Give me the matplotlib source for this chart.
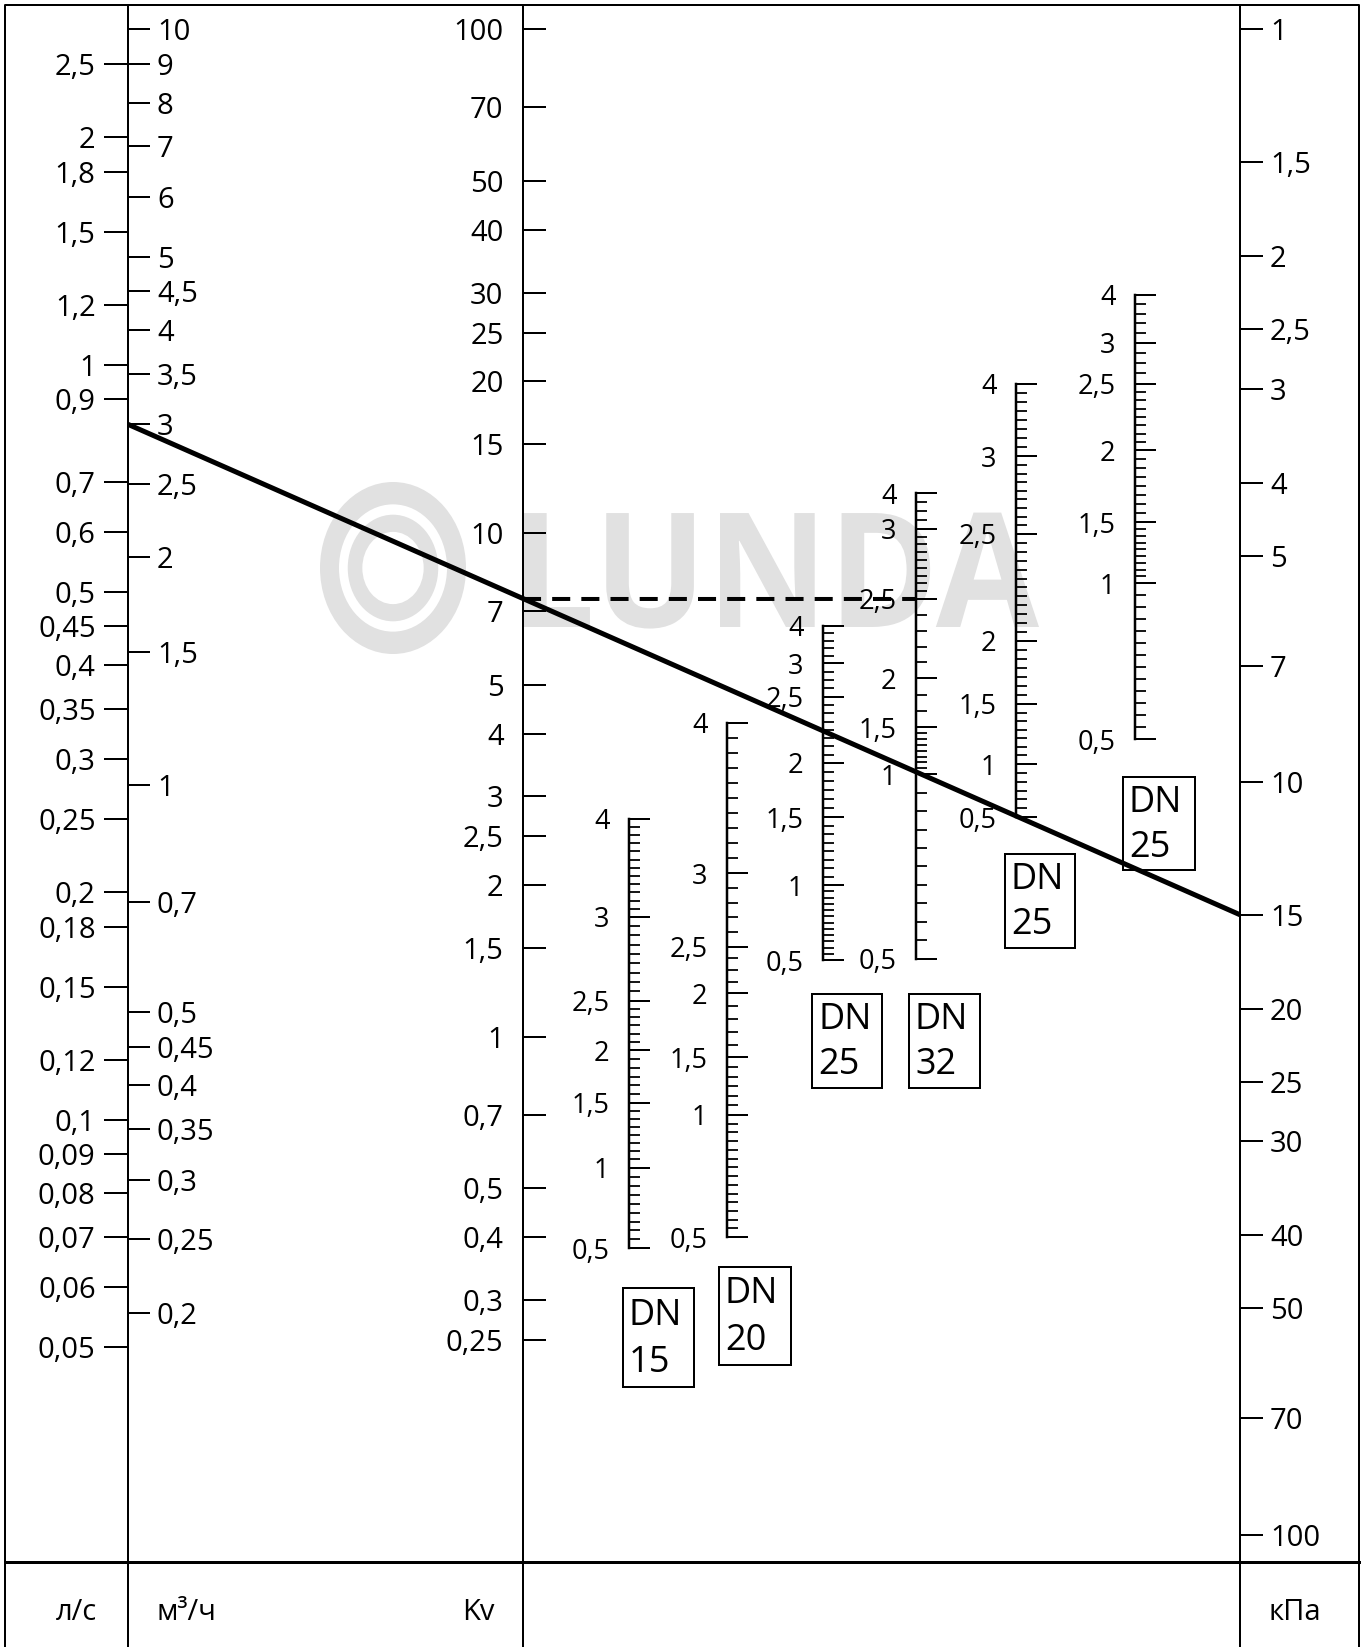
import numpy as np
import matplotlib.pyplot as plt
from matplotlib.patches import Rectangle, Ellipse, ConnectionPatch, PathPatch
from matplotlib.ticker import NullFormatter, NullLocator
from matplotlib.textpath import TextPath
from matplotlib.font_manager import FontProperties
from matplotlib.transforms import Affine2D

plt.rcParams['font.family'] = ['Open Sans', 'DejaVu Sans']
plt.rcParams['lines.scale_dashes'] = False

# --- values ---
ls_ticks = [2.5, 2, 1.8, 1.5, 1.2, 1, 0.9, 0.7, 0.6, 0.5, 0.45, 0.4, 0.35, 0.3, 0.25,
            0.2, 0.18, 0.15, 0.12, 0.1, 0.09, 0.08, 0.07, 0.06, 0.05]
m3h_ticks = [10, 9, 8, 7, 6, 5, 4.5, 4, 3.5, 3, 2.5, 2, 1.5, 1, 0.7, 0.5, 0.45, 0.4,
             0.35, 0.3, 0.25, 0.2]
kv_ticks = [100, 70, 50, 40, 30, 25, 20, 15, 10, 7, 5, 4, 3, 2.5, 2, 1.5, 1, 0.7, 0.5,
            0.4, 0.3, 0.25]
kpa_ticks = [1, 1.5, 2, 2.5, 3, 4, 5, 7, 10, 15, 20, 25, 30, 40, 50, 70, 100]

settings = [4, 3, 2.5, 2, 1.5, 1, 0.5]
dn_names = ['15', '20', '25', '32', '25', '25']
# Kv that each presetting lines up with
dn_kv = [
    [2.71, 1.73, 1.18, 0.94, 0.74, 0.55, 0.38],
    [4.20, 2.11, 1.51, 1.22, 0.91, 0.70, 0.40],
    [6.54, 5.52, 4.73, 3.50, 2.73, 2.00, 1.42],
    [12.0, 10.2, 7.40, 5.15, 4.12, 3.32, 1.43],
    [19.8, 14.2, 9.96, 6.11, 4.58, 3.48, 2.73],
    [29.7, 23.9, 19.8, 14.6, 10.5, 7.96, 3.90],
]
# number of small divisions between labelled settings
dn_divs = [
    [12, 9, 6, 6, 8, 9],
    [10, 5, 4, 5, 6, 14],
    [5, 4, 8, 6, 8, 12],
    [4, 9, 5, 3, 8, 10],
    [8, 9, 12, 7, 7, 6],
    [5, 4, 8, 8, 9, 13],
]

flow_example = 3     # m3/h
dp_example = 15      # kPa
dn_example = 3       # DN32
setting_example = 2.5

# --- layout (pixels, origin top left) ---
W, H = 1363, 1647
TOP, SEP, RIGHT, LEFT = 5, 1562, 1359, 5
X_FLOW, X_KV, X_KPA = 128, 523, 1240
X_DN = [629, 727, 823, 916, 1016, 1135]
DN_BOX = [(623, 1288, 71, 99), (719, 1267, 72, 98), (812, 994, 70, 94),
          (909, 994, 71, 94), (1005, 854, 70, 94), (1123, 777, 72, 93)]
FS_TICK, FS_DN, FS_BOX = 21, 19.5, 26
PX = 0.72  # points per pixel


def fmt(v):
    return ('%g' % v).replace('.', ',')


def log_limits(v_ref, y_ref, px_dec, down=True):
    s = -1 if down else 1
    v_top = v_ref * 10 ** (s * (TOP - y_ref) / px_dec)
    v_bot = v_ref * 10 ** (s * (H - y_ref) / px_dec)
    return v_bot, v_top


fig = plt.figure(figsize=(W / 100, H / 100), dpi=100)

ax0 = fig.add_axes([0, 0, 1, 1])
ax0.set_xlim(0, W)
ax0.set_ylim(H, 0)
ax0.axis('off')

# watermark
wm = '#e1e1e1'
for k, c in [(1.0, wm), (0.74, 'white'), (0.62, wm), (0.42, 'white')]:
    ax0.add_patch(Ellipse((393, 568), 146 * k, 172 * k, color=c, lw=0))
tp = TextPath((0, 0), 'LUNDA', size=100,
              prop=FontProperties(family='Open Sans', weight='bold'))
bb = tp.get_extents()
sx = 515 / bb.width
sy = 116 / bb.height
tr = Affine2D().translate(-bb.x0, 0).scale(sx, -sy).translate(524, 627)
ax0.add_patch(PathPatch(tr.transform_path(tp), color=wm, lw=0))

# frame
ax0.plot([LEFT, LEFT, RIGHT, RIGHT], [H, TOP, TOP, H], color='black', lw=2 * PX)
ax0.plot([LEFT, RIGHT], [SEP, SEP], color='black', lw=3 * PX)
for s, x in [('л/с', 76), ('м³/ч', 186), ('Kv', 478), ('кПа', 1295)]:
    ax0.text(x, 1612, s, fontsize=FS_TICK, ha='center', va='center')


def column(x0, x1, lims):
    ax = fig.add_axes([x0 / W, 0, (x1 - x0) / W, (H - TOP) / H])
    ax.set_yscale('log')
    ax.set_ylim(*lims)
    ax.set_xlim(0, 1)
    ax.patch.set_visible(False)
    for sp in ax.spines.values():
        sp.set_visible(False)
    ax.tick_params(bottom=False, labelbottom=False)
    ax.yaxis.set_minor_locator(NullLocator())
    ax.yaxis.set_minor_formatter(NullFormatter())
    return ax


m3h_lim = log_limits(10, 29.4, 755.3)
kv_lim = log_limits(100, 29.4, 503.7)
kpa_lim = log_limits(1, 29.4, 752.8, down=False)

# flow, l/s (left side of the line)
ax_ls = column(X_FLOW, X_FLOW + 1, (m3h_lim[0] / 3.6, m3h_lim[1] / 3.6))
ax_ls.spines['left'].set_visible(True)
ax_ls.spines['left'].set_linewidth(2 * PX)
ax_ls.set_yticks(ls_ticks, [fmt(v) for v in ls_ticks])
ax_ls.tick_params(axis='y', direction='out', length=24 * PX, width=2 * PX,
                  pad=6, labelsize=FS_TICK)

# flow, m3/h (right side of the line)
ax_m3h = column(X_FLOW - 1, X_FLOW, m3h_lim)
ax_m3h.yaxis.tick_right()
ax_m3h.set_yticks(m3h_ticks, [fmt(v) for v in m3h_ticks])
ax_m3h.tick_params(axis='y', direction='out', length=22 * PX, width=2 * PX,
                   pad=5, labelsize=FS_TICK)

# Kv
ax_kv = column(X_KV, X_KV + 1, kv_lim)
ax_kv.spines['left'].set_visible(True)
ax_kv.spines['left'].set_linewidth(2 * PX)
ax_kv.set_yticks(kv_ticks, [fmt(v) for v in kv_ticks])
ax_kv.tick_params(axis='y', direction='in', length=23 * PX, width=2 * PX,
                  pad=14, labelsize=FS_TICK)

# pressure drop, kPa
ax_kpa = column(X_KPA - 1, X_KPA, kpa_lim)
ax_kpa.spines['right'].set_visible(True)
ax_kpa.spines['right'].set_linewidth(2 * PX)
ax_kpa.yaxis.tick_right()
ax_kpa.set_yticks(kpa_ticks, [fmt(v) for v in kpa_ticks])
ax_kpa.tick_params(axis='y', direction='out', length=23 * PX, width=2 * PX,
                   pad=5, labelsize=FS_TICK)

# presetting scales
dn_axes = []
for x, kv, divs in zip(X_DN, dn_kv, dn_divs):
    ax = column(x, x + 1, kv_lim)
    ax.spines['left'].set_visible(True)
    ax.spines['left'].set_linewidth(2.5 * PX)
    ax.spines['left'].set_bounds(min(kv), max(kv))
    ax.set_yticks(kv, [fmt(s) for s in settings])
    minor = []
    for a, b, n in zip(kv[:-1], kv[1:], divs):
        minor.extend(np.logspace(np.log10(a), np.log10(b), n + 1)[1:-1])
    ax.set_yticks(minor, minor=True)
    ax.yaxis.set_minor_formatter(NullFormatter())
    ax.tick_params(axis='y', which='major', direction='in', length=21 * PX,
                   width=2 * PX, pad=14, labelsize=FS_DN)
    ax.tick_params(axis='y', which='minor', direction='in', length=11 * PX,
                   width=1.8 * PX)
    dn_axes.append(ax)

# DN boxes
ax1 = fig.add_axes([0, 0, 1, 1])
ax1.set_xlim(0, W)
ax1.set_ylim(H, 0)
ax1.axis('off')
for (bx, by, bw, bh), name in zip(DN_BOX, dn_names):
    ax1.add_patch(Rectangle((bx, by), bw, bh, fill=False, lw=2 * PX, ec='black'))
    ax1.text(bx + 6, by + bh * 0.28, 'DN', fontsize=FS_BOX, ha='left', va='center')
    ax1.text(bx + 6, by + bh * 0.76, name, fontsize=FS_BOX, ha='left', va='center')

# example reading
sol = ConnectionPatch(xyA=(1, flow_example), coordsA=ax_m3h.transData,
                      xyB=(1, dp_example), coordsB=ax_kpa.transData,
                      color='black', lw=5 * PX, capstyle='butt', zorder=5)
fig.add_artist(sol)
kv_set = dn_kv[dn_example][settings.index(setting_example)]
dash = ConnectionPatch(xyA=(0, kv_set), coordsA=ax_kv.transData,
                       xyB=(0, kv_set), coordsB=dn_axes[dn_example].transData,
                       color='black', lw=4 * PX, linestyle=(0, (13, 8)),
                       capstyle='butt', zorder=5)
fig.add_artist(dash)

fig.savefig('out.png', dpi=100, facecolor='white')
